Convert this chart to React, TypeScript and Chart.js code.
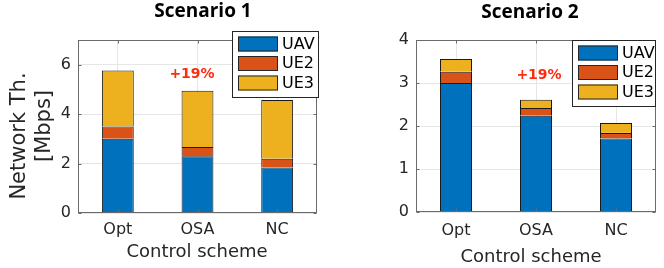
import { useEffect, useRef } from "react";
import { Chart, registerables } from "chart.js";

Chart.register(...registerables);

// ---- data ----
const categories = ["Opt", "OSA", "NC"];
const seriesNames = ["UAV", "UE2", "UE3"];
const seriesColors = ["#0072BD", "#D95319", "#EDB120"];

const s1UAV = [3.0, 2.3, 1.84];
const s1UE2 = [0.5, 0.37, 0.36];
const s1UE3 = [2.27, 2.28, 2.37];

const s2UAV = [3.0, 2.24, 1.71];
const s2UE2 = [0.26, 0.18, 0.13];
const s2UE3 = [0.3, 0.19, 0.23];

const s1YTicks = [0, 2, 4, 6];
const s1YMax = 7;
const s2YTicks = [0, 1, 2, 3, 4];
const s2YMax = 4;

const titles = ["Scenario 1", "Scenario 2"];
const noteText = "+19%";
const yLabelLines = ["Network Th.", "[Mbps]"];
const xLabelText = "Control scheme";

// ---- styles ----
const FONT = "'DejaVu Sans', 'Liberation Sans', sans-serif";
const TEXT = "#262626";
const AXIS = "#6b6b6b";
const GRID = "#e6e6e6";

const matlabPlugin = {
  id: "matlab",
  afterDatasetsDraw(chart: any, _args: any, opts: any) {
    const { ctx, chartArea, scales } = chart;
    const x = scales.x;
    const y = scales.y;
    const L = Math.round(chartArea.left) + 0.5;
    const R = Math.round(chartArea.right) - 0.5;
    const T = Math.round(chartArea.top) + 0.5;
    const B = Math.round(chartArea.bottom) - 0.5;
    ctx.save();
    ctx.strokeStyle = AXIS;
    ctx.lineWidth = 1;
    ctx.strokeRect(L, T, R - L, B - T);
    const tl = 3;
    ctx.beginPath();
    y.ticks.forEach((t: any) => {
      const py = Math.round(y.getPixelForValue(t.value)) + 0.5;
      ctx.moveTo(L, py);
      ctx.lineTo(L + tl, py);
      ctx.moveTo(R, py);
      ctx.lineTo(R - tl, py);
    });
    x.ticks.forEach((_t: any, i: number) => {
      const px = Math.round(x.getPixelForTick(i)) + 0.5;
      ctx.moveTo(px, B);
      ctx.lineTo(px, B - tl);
      ctx.moveTo(px, T);
      ctx.lineTo(px, T + tl);
    });
    ctx.stroke();
    ctx.restore();
  },
  afterDraw(chart: any, _args: any, opts: any) {
    const { ctx } = chart;
    ctx.save();
    // title
    ctx.fillStyle = "#000";
    ctx.font = "bold 19px 'Open Sans', sans-serif";
    ctx.textAlign = "center";
    ctx.textBaseline = "alphabetic";
    ctx.fillText(opts.title, opts.titleX, opts.titleY);
    // note
    ctx.fillStyle = "#ff2b0f";
    ctx.font = `bold 14px ${FONT}`;
    ctx.fillText(opts.note, opts.noteX, opts.noteY);
    // x label
    ctx.fillStyle = TEXT;
    ctx.font = `18px ${FONT}`;
    ctx.fillText(opts.xLabel, opts.xLabelX, opts.xLabelY);
    // y label
    if (opts.yLabel) {
      ctx.font = `21px ${FONT}`;
      opts.yLabel.forEach((line: string, i: number) => {
        ctx.save();
        ctx.translate(opts.yLabelX[i], opts.yLabelY[i]);
        ctx.rotate(-Math.PI / 2);
        ctx.fillText(line, 0, 0);
        ctx.restore();
      });
    }
    // legend
    const lg = opts.legend;
    ctx.fillStyle = "#fff";
    ctx.fillRect(lg.x, lg.y, lg.w, lg.h);
    ctx.strokeStyle = "#262626";
    ctx.lineWidth = 1;
    ctx.strokeRect(lg.x + 0.5, lg.y + 0.5, lg.w - 1, lg.h - 1);
    ctx.font = `16px ${FONT}`;
    ctx.textAlign = "left";
    ctx.textBaseline = "middle";
    chart.data.datasets.forEach((ds: any, i: number) => {
      const sy = lg.y + 5.5 + i * 19.5;
      ctx.fillStyle = ds.backgroundColor;
      ctx.fillRect(lg.x + 6, sy, 40, 15);
      ctx.strokeStyle = "#262626";
      ctx.strokeRect(lg.x + 6.5, sy + 0.5, 39, 14);
      ctx.fillStyle = "#000";
      ctx.fillText(ds.label, lg.x + 50, sy + 8);
    });
    ctx.restore();
  },
};

function makeConfig(series: number[][], yTicks: number[], yMax: number, layout: any, plug: any): any {
  return {
    type: "bar",
    data: {
      labels: categories,
      datasets: series.map((d, i) => ({
        label: seriesNames[i],
        data: d,
        backgroundColor: seriesColors[i],
        borderColor: "#1a1a1a",
        borderWidth: { top: 1, left: 1, right: 1, bottom: 0 },
        borderSkipped: false,
        barPercentage: 0.4,
        categoryPercentage: 1,
      })),
    },
    options: {
      responsive: false,
      animation: false,
      devicePixelRatio: 1,
      layout: { padding: { left: 0, right: layout.padRight, top: layout.top, bottom: 0 } },
      plugins: {
        legend: { display: false },
        tooltip: { enabled: false },
        title: { display: false },
        matlab: plug,
      },
      scales: {
        x: {
          stacked: true,
          offset: true,
          grid: { color: GRID, drawTicks: false, offset: false },
          border: { display: false },
          ticks: { font: { family: FONT, size: 16 }, color: TEXT, padding: layout.xPad },
          afterFit: (s: any) => {
            s.height = layout.xh;
          },
        },
        y: {
          stacked: true,
          min: 0,
          max: yMax,
          grid: { color: GRID, drawTicks: false },
          border: { display: false },
          ticks: { font: { family: FONT, size: 16 }, color: TEXT, padding: 7 },
          afterBuildTicks: (s: any) => {
            s.ticks = yTicks.map((v) => ({ value: v }));
          },
          afterFit: (s: any) => {
            s.width = layout.yw;
          },
        },
      },
    },
    plugins: [matlabPlugin],
  };
}

function ChartCanvas({ config, left }: { config: any; left: number }) {
  const ref = useRef<HTMLCanvasElement | null>(null);
  useEffect(() => {
    if (!ref.current) return;
    const c = new Chart(ref.current, config);
    return () => c.destroy();
  }, []);
  return (
    <canvas
      ref={ref}
      width={332}
      height={268}
      style={{ position: "absolute", left, top: 0, width: 332, height: 268, display: "block" }}
    />
  );
}

export default function App() {
  const cfg1 = makeConfig(
    [s1UAV, s1UE2, s1UE3],
    s1YTicks,
    s1YMax,
    { yw: 78, padRight: 15, top: 40, xh: 55, xPad: 7 },
    {
      title: titles[0],
      titleX: 203,
      titleY: 17,
      note: noteText,
      noteX: 192,
      noteY: 78,
      xLabel: xLabelText,
      xLabelX: 197,
      xLabelY: 256.5,
      yLabel: yLabelLines,
      yLabelX: [25, 50],
      yLabelY: [136, 126],
      legend: { x: 232, y: 31, w: 87, h: 67 },
    }
  );
  const cfg2 = makeConfig(
    [s2UAV, s2UE2, s2UE3],
    s2YTicks,
    s2YMax,
    { yw: 84, padRight: 8, top: 40, xh: 56, xPad: 9 },
    {
      title: titles[1],
      titleX: 198,
      titleY: 18,
      note: noteText,
      noteX: 207,
      noteY: 78.5,
      xLabel: xLabelText,
      xLabelX: 199,
      xLabelY: 262,
      yLabel: null,
      legend: { x: 240, y: 40, w: 84, h: 67 },
    }
  );
  return (
    <div style={{ position: "absolute", left: 0, top: 0, width: 664, height: 268, background: "#fff" }}>
      <ChartCanvas config={cfg1} left={0} />
      <ChartCanvas config={cfg2} left={332} />
    </div>
  );
}
